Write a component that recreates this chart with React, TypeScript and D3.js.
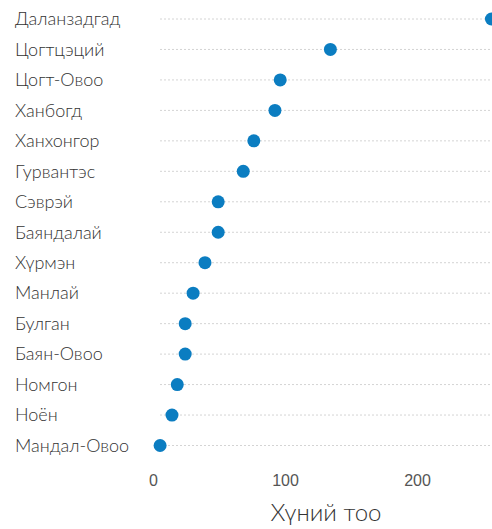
import React from "react";
import * as d3 from "d3";

const categories = [
  "Даланзадгад",
  "Цогтцэций",
  "Цогт-Овоо",
  "Ханбогд",
  "Ханхонгор",
  "Гурвантэс",
  "Сэврэй",
  "Баяндалай",
  "Хүрмэн",
  "Манлай",
  "Булган",
  "Баян-Овоо",
  "Номгон",
  "Ноён",
  "Мандал-Овоо",
];
const values = [256, 134, 96, 92, 76, 68, 49, 49, 39, 30, 24, 24, 18, 14, 5];
const xTicks = [0, 100, 200];

const width = 492;
const height = 529;

export default function App() {
  const x = d3.scaleLinear().domain([0, 100]).range([153.5, 285.5]);
  const y = d3
    .scalePoint<string>()
    .domain(categories)
    .range([19, 445.5]);

  return (
    <svg
      width={width}
      height={height}
      style={{ position: "absolute", left: 0, top: 0 }}
    >
      {categories.map((c) => (
        <line
          key={"g" + c}
          x1={160}
          x2={width}
          y1={y(c)}
          y2={y(c)}
          stroke="#d4d4d4"
          strokeWidth={1}
          strokeDasharray="2,2"
        />
      ))}
      {categories.map((c) => (
        <text
          key={"l" + c}
          x={15}
          y={y(c)}
          dy="0.35em"
          fontFamily="Lato, 'Open Sans', sans-serif"
          fontWeight={300}
          fontSize={18}
          fill="#333"
        >
          {c}
        </text>
      ))}
      {categories.map((c, i) => (
        <circle
          key={"d" + c}
          cx={x(values[i])}
          cy={y(c)}
          r={6.5}
          fill="#0b7dc1"
        />
      ))}
      {xTicks.map((t) => (
        <text
          key={"t" + t}
          x={x(t)}
          y={480}
          dy="0.35em"
          textAnchor="middle"
          fontFamily="'Liberation Sans', Arial, sans-serif"
          fontSize={16}
          fill="#555"
        >
          {t}
        </text>
      ))}
      <text
        x={326}
        y={513}
        dy="0.35em"
        textAnchor="middle"
        fontFamily="Lato, 'Open Sans', sans-serif"
        fontWeight={300}
        fontSize={24}
        fill="#333"
      >
        Хүний тоо
      </text>
    </svg>
  );
}
